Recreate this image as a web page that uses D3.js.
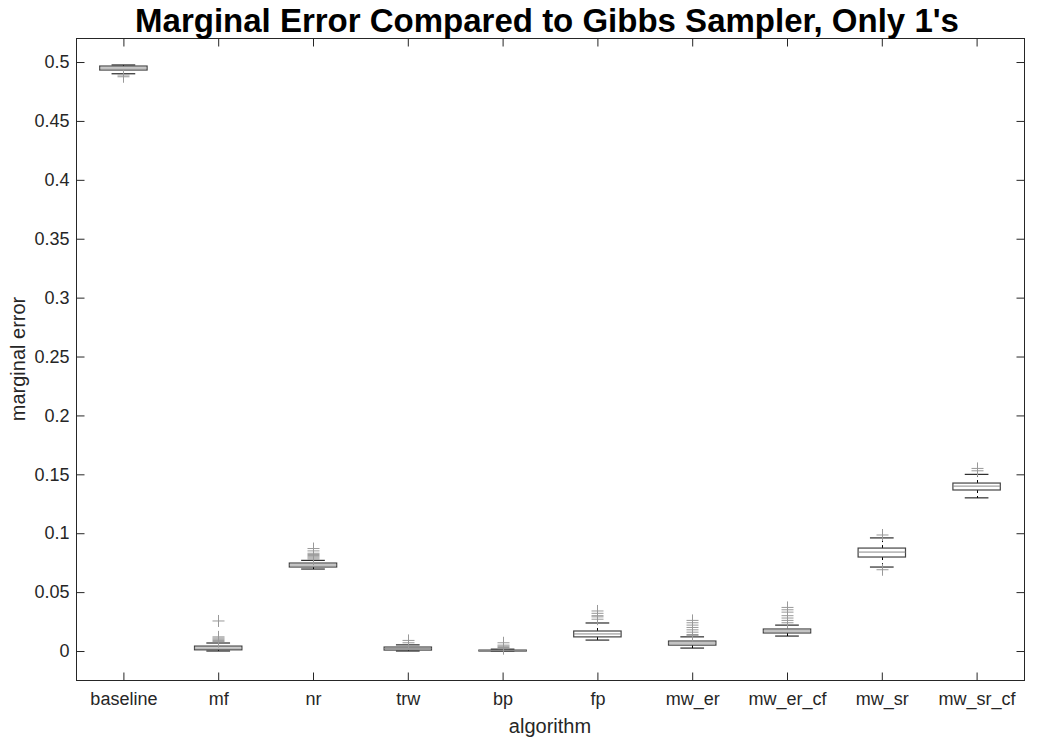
<!DOCTYPE html>
<html>
<head>
<meta charset="utf-8">
<script src="https://cdn.jsdelivr.net/npm/d3@7"></script>
<style>
  html, body { margin: 0; padding: 0; background: #fff; }
  svg { display: block; font-family: "Liberation Sans", Arial, sans-serif; }
</style>
</head>
<body>
<svg id="chart" width="1039" height="740"></svg>
<script>
// Box plot summaries for each algorithm (marginal error vs. Gibbs sampler)
const categories = ["baseline", "mf", "nr", "trw", "bp", "fp", "mw_er", "mw_er_cf", "mw_sr", "mw_sr_cf"];
const q1       = [0.4932, 0.0010, 0.0713, 0.0008, 0.0000, 0.0120, 0.0050, 0.0153, 0.0798, 0.1367];
const medians  = [0.4949, 0.0025, 0.0730, 0.0020, 0.0004, 0.0145, 0.0068, 0.0170, 0.0840, 0.1400];
const q3       = [0.4966, 0.0042, 0.0747, 0.0034, 0.0008, 0.0170, 0.0085, 0.0187, 0.0874, 0.1426];
const whiskLo  = [0.4900, 0.0000, 0.0696, 0.0000, 0.0000, 0.0093, 0.0025, 0.0127, 0.0713, 0.1300];
const whiskHi  = [0.4975, 0.0068, 0.0770, 0.0052, 0.0016, 0.0238, 0.0120, 0.0220, 0.0960, 0.1500];
const outliers = [
  [0.4890, 0.4875],
  [0.0080, 0.0090, 0.0100, 0.0110, 0.0120, 0.0255],
  [0.0780, 0.0790, 0.0800, 0.0810, 0.0820, 0.0830, 0.0850, 0.0870],
  [0.0070, 0.0090],
  [0.0020, 0.0030, 0.0040, 0.0050, 0.0070],
  [0.0270, 0.0290, 0.0300, 0.0320, 0.0340],
  [0.0130, 0.0140, 0.0160, 0.0180, 0.0200, 0.0220, 0.0240, 0.0260],
  [0.0240, 0.0260, 0.0280, 0.0300, 0.0330, 0.0350, 0.0370],
  [0.0985, 0.0690],
  [0.1530, 0.1550]
];
const yTicks = [0, 0.05, 0.1, 0.15, 0.2, 0.25, 0.3, 0.35, 0.4, 0.45, 0.5];
const yTickLabels = ["0", "0.05", "0.1", "0.15", "0.2", "0.25", "0.3", "0.35", "0.4", "0.45", "0.5"];

const title = "Marginal Error Compared to Gibbs Sampler, Only 1's";
const xTitle = "algorithm";
const yTitle = "marginal error";

const margin = { left: 76, right: 15, top: 38, bottom: 60 };
const W = 1039, H = 740;
const svg = d3.select("#chart");
const plotW = W - margin.left - margin.right;
const plotH = H - margin.top - margin.bottom;

const x = d3.scaleLinear().domain([0.5, categories.length + 0.5]).range([margin.left, margin.left + plotW]);
const y = d3.scaleLinear().domain([-0.0246, 0.5204]).range([margin.top + plotH, margin.top]);

const axisColor = "#262626";
const tickLen = 8;
const tickFont = "18px";

// Plot frame
svg.append("rect")
  .attr("x", margin.left + 0.5).attr("y", margin.top + 0.5)
  .attr("width", plotW).attr("height", plotH)
  .attr("fill", "none").attr("stroke", axisColor).attr("stroke-width", 1);

const idx = categories.map((_, i) => i + 1);

// Left and right y axes, ticks pointing inward
const yLeft = d3.axisLeft(y).tickValues(yTicks).tickSize(-tickLen).tickPadding(7)
  .tickFormat((d, i) => yTickLabels[i]);
const gyl = svg.append("g").attr("transform", `translate(${margin.left + 0.5},0)`).call(yLeft);
const yRight = d3.axisRight(y).tickValues(yTicks).tickSize(-tickLen).tickFormat("");
const gyr = svg.append("g").attr("transform", `translate(${margin.left + plotW + 0.5},0)`).call(yRight);

// Bottom and top x axes
const xBottom = d3.axisBottom(x).tickValues(idx).tickSize(-tickLen).tickPadding(12)
  .tickFormat((d) => categories[d - 1]);
const gxb = svg.append("g").attr("transform", `translate(0,${margin.top + plotH + 0.5})`).call(xBottom);
const xTop = d3.axisTop(x).tickValues(idx).tickSize(-tickLen).tickFormat("");
const gxt = svg.append("g").attr("transform", `translate(0,${margin.top + 0.5})`).call(xTop);

[gyl, gyr, gxb, gxt].forEach(g => {
  g.select(".domain").remove();
  g.selectAll(".tick line").attr("stroke", axisColor);
  g.selectAll(".tick text").attr("fill", axisColor).style("font-size", tickFont)
    .style("font-family", "'Liberation Sans', Arial, sans-serif");
});

// Box plots
const boxW = 0.5, capW = 0.25;
const boxes = svg.append("g");
idx.forEach((c, i) => {
  const g = boxes.append("g");
  const xc = Math.round(x(c)) + 0.5;
  // whiskers (dashed stems)
  g.append("line").attr("x1", xc).attr("x2", xc).attr("y1", y(q3[i])).attr("y2", y(whiskHi[i]))
    .attr("stroke", "#000").attr("stroke-dasharray", "3,3");
  g.append("line").attr("x1", xc).attr("x2", xc).attr("y1", y(q1[i])).attr("y2", y(whiskLo[i]))
    .attr("stroke", "#000").attr("stroke-dasharray", "3,3");
  // caps
  [whiskHi[i], whiskLo[i]].forEach(v => {
    g.append("line").attr("x1", x(c - capW / 2)).attr("x2", x(c + capW / 2))
      .attr("y1", y(v)).attr("y2", y(v)).attr("stroke", "#000").attr("stroke-width", 1);
  });
  // box
  g.append("rect").attr("x", x(c - boxW / 2)).attr("width", x(c + boxW / 2) - x(c - boxW / 2))
    .attr("y", y(q3[i])).attr("height", Math.max(0.5, y(q1[i]) - y(q3[i])))
    .attr("fill", "none").attr("stroke", "#444").attr("stroke-width", 1.2);
  // median
  g.append("line").attr("x1", x(c - boxW / 2)).attr("x2", x(c + boxW / 2))
    .attr("y1", y(medians[i])).attr("y2", y(medians[i]))
    .attr("stroke", "#888").attr("stroke-width", 1);
  // outliers as "+" markers
  outliers[i].forEach(v => {
    const yy = y(v);
    g.append("path")
      .attr("d", `M${xc - 6},${yy}H${xc + 6}M${xc},${yy - 6}V${yy + 6}`)
      .attr("stroke", "#999").attr("stroke-width", 1).attr("fill", "none");
  });
});

// Titles
svg.append("text").attr("x", margin.left + plotW / 2 - 3).attr("y", 32)
  .attr("text-anchor", "middle").attr("fill", "#000")
  .style("font-size", "33px").style("font-weight", "bold").text(title);
svg.append("text").attr("x", margin.left + plotW / 2).attr("y", 733)
  .attr("text-anchor", "middle").attr("fill", axisColor)
  .style("font-size", "20px").text(xTitle);
svg.append("text").attr("transform", `translate(25,${margin.top + plotH / 2}) rotate(-90)`)
  .attr("text-anchor", "middle").attr("fill", axisColor)
  .style("font-size", "20px").text(yTitle);
</script>
</body>
</html>
